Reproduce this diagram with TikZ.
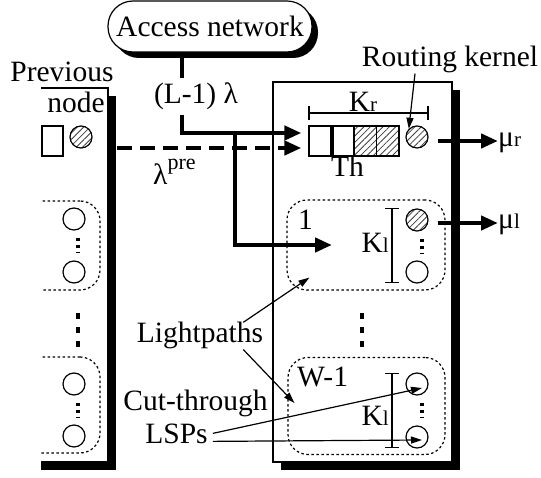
\documentclass[tikz,border=0pt]{standalone}
\usepackage{fontspec}
\setmainfont{Liberation Serif}
\usepackage{tikz}
\usetikzlibrary{arrows.meta,patterns.meta,shadows}

\newcommand{\lowtag}[1]{{\fontsize{21}{21}\selectfont #1}}
\newcommand{\uptag}[1]{\raisebox{15pt}{\fontsize{22}{22}\selectfont #1}}

\tikzset{
  lbl/.style={inner sep=0pt},
  box/.style={draw, line width=1.2pt, fill=white, inner sep=0pt,
    drop shadow={shadow xshift=#1, shadow yshift=-#1, fill=black, opacity=1}},
  box/.default=8pt,
  cell/.style={draw, line width=1.2pt, minimum width=22.5pt, minimum height=30pt, inner sep=0pt},
  hatch/.style={pattern={Lines[angle=45,distance=4.5pt,line width=0.8pt]}, pattern color=black!75},
  circ/.style={draw, circle, line width=1.2pt, minimum size=22pt, inner sep=0pt},
  grp/.style={draw, dash pattern=on 2.5pt off 2.5pt, line width=1.2pt, rounded corners=20pt, inner sep=0pt},
  dim/.style={line width=1.2pt, {Bar[width=14pt]}-{Bar[width=14pt]}},
  fat/.style={line width=4.5pt, -{Triangle[length=17pt,width=14pt]}},
  pointer/.style={line width=1.2pt, -{Triangle[length=11pt,width=7pt]}},
  vdots/.style={line width=3.5pt, dash pattern=on 3pt off 4pt, shorten <=7pt, shorten >=7pt},
  gapdots/.style={line width=3.5pt, dash pattern=on 6pt off 8pt},
}

\begin{document}
\begin{tikzpicture}[x=1pt,y=-1pt,font=\fontsize{29.5}{32}\selectfont]
  \useasboundingbox (0,0) rectangle (541,478);

  % --- access network ---
  \node[box=6pt, rounded corners=25pt, minimum width=204pt, minimum height=51pt] (acc) at (210,26.5) {Access network};

  % --- previous node, cut off at the left ---
  \node[lbl, anchor=base] (prevlbl) at (62,82) {Previous};
  \begin{scope}
    \clip (41,0) rectangle (541,478);
    \node[box, minimum width=128pt, minimum height=374pt] (prev) at (44,275) {};
    \node[cell, minimum width=21pt] (pq) at (52.5,141) {};
    \node[circ, hatch] (pk) at (81,137) {};
    \node[grp, minimum width=100pt, minimum height=89pt] (pg1) at (50,245.5) {};
    \node[grp, minimum width=100pt, minimum height=96pt] (pgw) at (50,405) {};
    \foreach \n/\y in {pa/219, pb/272, pc/384, pd/436}
      \node[circ] (\n) at (74,\y) {};
    \draw[vdots] ([xshift=4pt]pa.south) -- ([xshift=4pt]pb.north);
    \draw[vdots] ([xshift=4pt]pc.south) -- ([xshift=4pt]pd.north);
    \draw[gapdots] (78,313) -- (78,351);
  \end{scope}
  \node[lbl, anchor=base east] (nodelbl) at (105,113) {node};

  % --- current node ---
  \node[box, minimum width=179pt, minimum height=380pt] (cur) at (362.5,272) {};

  % --- routing queue ---
  \foreach \i/\x in {1/320.25, 2/342.75} \node[cell] (q\i) at (\x,141) {};
  \foreach \i/\x in {3/365.25, 4/387.75} \node[cell, hatch] (q\i) at (\x,141) {};
  \draw[line width=3.5pt] (q1.north east) -- (q1.south east);
  \node[lbl, anchor=base west] (th) at (331,177) {Th};
  \node[circ, hatch] (rk) at (417,137) {};
  \draw[dim] ([yshift=28pt]q1.west) -- ([yshift=28pt]q1.west -| rk.east);
  \node[lbl, anchor=base] (kr) at (363,112) {K\lowtag{r}};
  \node[lbl, anchor=base] (rklbl) at (450,67) {Routing kernel};
  \draw[pointer] ([xshift=-35pt]rklbl.south) -- (rk.north west);

  % --- lightpath groups ---
  \node[grp, minimum width=158pt, minimum height=90pt] (g1) at (366,245) {};
  \node[grp, minimum width=157pt, minimum height=97pt] (gw) at (366.5,406) {};
  \node[lbl, anchor=base west] (one) at (298,230) {1};
  \node[lbl, anchor=base west] (wlbl) at (297,387) {W-1};
  \node[circ, hatch] (c1a) at (417,220) {};
  \foreach \n/\y in {c1b/272, cwa/384, cwb/437}
    \node[circ] (\n) at (417,\y) {};
  \draw[vdots] ([xshift=5pt]c1a.south) -- ([xshift=5pt]c1b.north);
  \draw[vdots] ([xshift=5pt]cwa.south) -- ([xshift=5pt]cwb.north);
  \draw[dim] (392,208) -- (392,283);
  \node[lbl, anchor=base east] (kl1) at (389,253) {K\lowtag{l}};
  \draw[dim] (392,373) -- (392,448);
  \node[lbl, anchor=base east] (klw) at (389,425) {K\lowtag{l}};
  \draw[gapdots] (362,313) -- (362,351);

  % --- outputs ---
  \node[lbl, anchor=base west] (mur) at (498,147) {μ\lowtag{r}};
  \node[lbl, anchor=base west] (mul) at (498,229) {μ\lowtag{l}};
  \draw[fat] ([xshift=9pt,yshift=-4pt]rk.east) -- ([yshift=-4pt]rk.east -| mur.west);
  \draw[fat] ([xshift=9pt,yshift=-3pt]c1a.east) -- ([yshift=-3pt]c1a.east -| mul.west);

  % --- inputs ---
  \coordinate (pout) at ([xshift=8pt]prev.east);
  \coordinate (split) at (235,133);
  \coordinate (in1) at (332,245);
  \draw[fat] ([xshift=-28pt]acc.south) |- ([xshift=-7pt,yshift=8pt]q1.west);
  \draw[fat] (split) |- (in1);
  \draw[fat, dash pattern=on 15pt off 8pt] ([yshift=-7pt]q1.west -| pout) -- ([xshift=-7pt,yshift=-7pt]q1.west);
  \node[lbl, anchor=base, fill=white, inner ysep=5pt] (lam) at (196,104) {(L-1) λ};
  \node[lbl, anchor=base west] (lampre) at (153,185) {λ\uptag{pre}};

  % --- annotations ---
  \node[lbl, anchor=base] (lp) at (200,343) {Lightpaths};
  \node[lbl, anchor=base] (ct) at (195.5,410) {Cut-through};
  \node[lbl, anchor=base] (lsp) at (176.5,443) {LSPs};
  \draw[pointer] ([xshift=-20pt]lp.north east) -- ([xshift=23pt,yshift=13pt]g1.south west);
  \draw[pointer] ([xshift=-20pt]lp.south east) -- ([xshift=7pt,yshift=3pt]gw.west);
  \draw[pointer] ([xshift=5pt]lsp.east) -- ([xshift=5pt,yshift=-4pt]cwa.center);
  \draw[pointer] ([xshift=5pt,yshift=-8pt]lsp.east) -- ([xshift=5pt,yshift=-3pt]cwb.center);
\end{tikzpicture}
\end{document}
